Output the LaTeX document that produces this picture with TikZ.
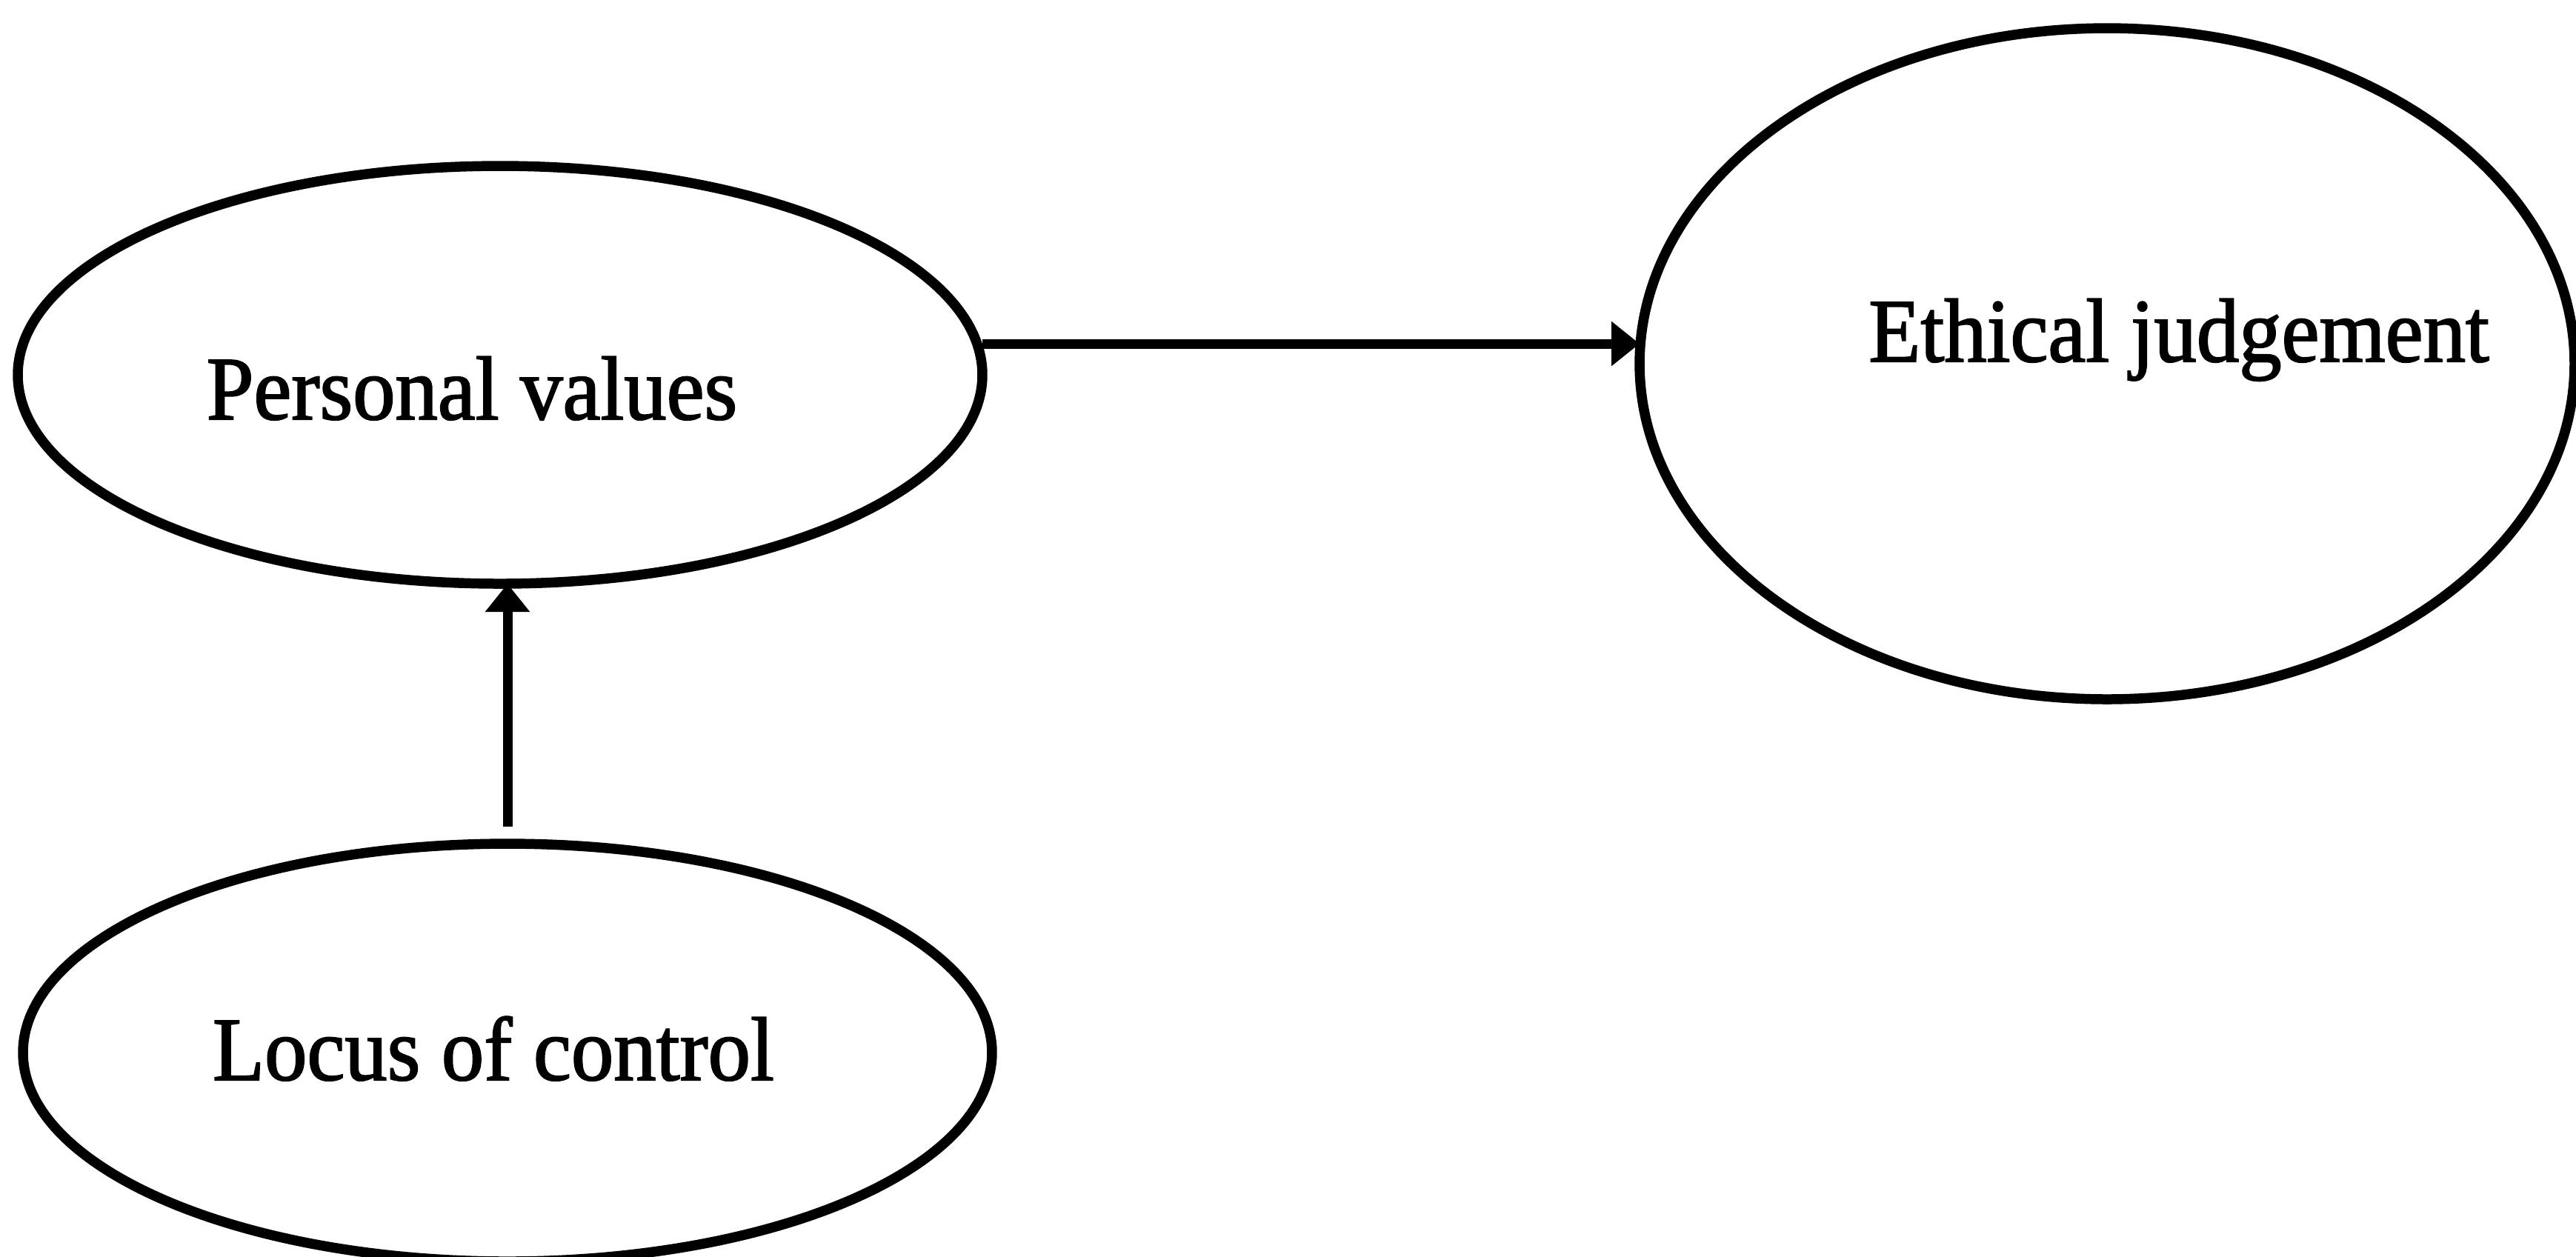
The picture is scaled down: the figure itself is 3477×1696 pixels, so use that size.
\documentclass[tikz,border=0pt]{standalone}
\usepackage{fontspec}
\setmainfont{Liberation Serif}[FakeStretch=0.94,FakeBold=1.6]
\usetikzlibrary{shapes.geometric,arrows.meta}
\tikzset{
  oval/.style={draw=black,line width=1.35pt,ellipse,inner sep=0pt,outer sep=0pt},
  lbl/.style={anchor=base,inner sep=0pt,font=\fontsize{12.2}{14}\selectfont},
  arr/.style={draw=black,line width=1.3pt,-{Triangle[length=3.8pt,width=5.8pt]}}
}
\begin{document}
\begin{tikzpicture}[x=0.1pt,y=-0.1pt]
\useasboundingbox[fill=white] (0,0) rectangle (3477,1696);
\node[oval,minimum width=130.2pt,minimum height=56.4pt] (pv) at (675,506) {};
\node[oval,minimum width=126.2pt,minimum height=90.6pt] (ej) at (2844,491) {};
\node[oval,minimum width=130.8pt,minimum height=56.4pt] (lc) at (685,1421) {};
\node[lbl] (pvt) at (637,566) {Personal values};
\node[lbl] (ejt) at (2941,488) {Ethical judgement};
\node[lbl] (lct) at (666,1458) {Locus of control};
\coordinate (hy) at (1500,464);
\draw[arr] (pv.east |- hy) -- (ej.west |- hy);
\coordinate (lctop) at ([yshift=2.3pt]lc.north);
\draw[arr] (lctop) -- (lctop |- pv.south);
\end{tikzpicture}
\end{document}
